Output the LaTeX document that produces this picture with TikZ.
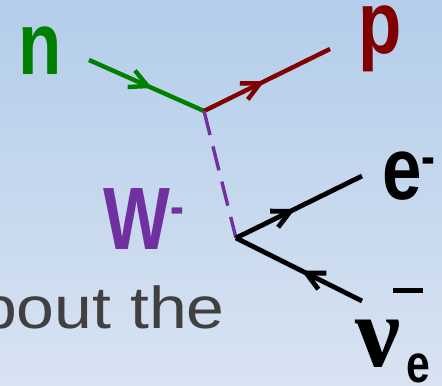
\documentclass[tikz,border=0pt]{standalone}
\usepackage{fontspec}
\setmainfont{Liberation Sans}
\newfontfamily\nufont{Liberation Serif}
\usepackage{xcolor}
\usetikzlibrary{
arrows.meta,
decorations.markings
}
\definecolor{BgTop}{HTML}{B3CDEA}
\definecolor{BgBottom}{HTML}{D8E3F2}
\definecolor{QuarkGreen}{HTML}{008000}
\definecolor{ProtonRed}{HTML}{800000}
\definecolor{BosonPurple}{HTML}{7030A0}
\definecolor{SlideGray}{HTML}{404040}

\begin{document}
\begin{tikzpicture}[
    x=0.025cm,
    y=-0.025cm,
    particle/.style={
        font=\fontsize{63pt}{63pt}\selectfont\bfseries,
        inner sep=0pt,
        transform shape,
        xscale=0.8
    },
    fermion/.style={
        line width=0.11cm,
        postaction={decorate},
        decoration={
            markings,
            mark=at position #1 with {\arrow{Straight Barb[length=0.45cm,width=0.45cm]}}
        }
    },
    antifermion/.style={
        line width=0.12cm,
        postaction={decorate},
        decoration={
            markings,
            mark=at position #1 with {\arrowreversed{Straight Barb[length=0.45cm,width=0.45cm]}}
        }
    },
    boson/.style={
        BosonPurple,
        line width=0.085cm,
        dash pattern=on 0.62cm off 0.29cm
    }
]

% =====================================================
% BACKGROUND
% =====================================================
\useasboundingbox (0,0) rectangle (442,386);
\clip (0,0) rectangle (442,386);
\shade[
    top color=BgTop,
    bottom color=BgBottom
]
(0,0) rectangle (442,386);

% =====================================================
% SLIDE TEXT (cut off)
% =====================================================
\node[
    anchor=base east,
    inner sep=0pt,
    text=SlideGray,
    font=\fontsize{42pt}{42pt}\selectfont,
    transform shape,
    xscale=1.15
]
(slidetext)
at (225,329)
{bout the};

% =====================================================
% VERTICES AND LINE ENDS
% =====================================================
\coordinate (nIn)   at (89,60);
\coordinate (vtxA)  at (204,111);
\coordinate (pOut)  at (330,49);
\coordinate (vtxB)  at (236,238);
\coordinate (eOut)  at (362,176);
\coordinate (nuOut) at (362,301);

% hadron side
\draw[fermion=0.55, QuarkGreen] (nIn) -- (vtxA);
\draw[fermion=0.48, ProtonRed] (vtxA) -- (pOut);

% W propagator
\draw[boson] (vtxA) -- (vtxB);

% lepton side
\draw[fermion=0.47, line width=0.12cm, black] (vtxB) -- (eOut);
\draw[antifermion=0.52, black] (vtxB) -- (nuOut);

% =====================================================
% LABELS
% =====================================================
\node[particle, anchor=base west, text=QuarkGreen]
(nlabel) at (18,75) {n};

\node[particle, anchor=base west, text=ProtonRed]
(plabel) at (358,54) {p};

\node[particle, anchor=base west, text=BosonPurple]
(wlabel) at (103,250)
{W\raisebox{18pt}{\fontsize{37pt}{37pt}\selectfont -}};

\node[particle, anchor=base west, text=black]
(elabel) at (382,200)
{e\raisebox{18pt}{\fontsize{37pt}{37pt}\selectfont -}};

\node[
    anchor=base west,
    inner sep=0pt,
    font=\fontsize{72pt}{72pt}\selectfont\nufont\bfseries
]
(nulabel) at (355,367) {ν};

\draw[line width=0.125cm] (393,291) -- (423,291);

\node[
    particle,
    anchor=base west,
    font=\fontsize{38pt}{38pt}\selectfont\bfseries
]
(nusub) at (406,383) {e};

\end{tikzpicture}
\end{document}
